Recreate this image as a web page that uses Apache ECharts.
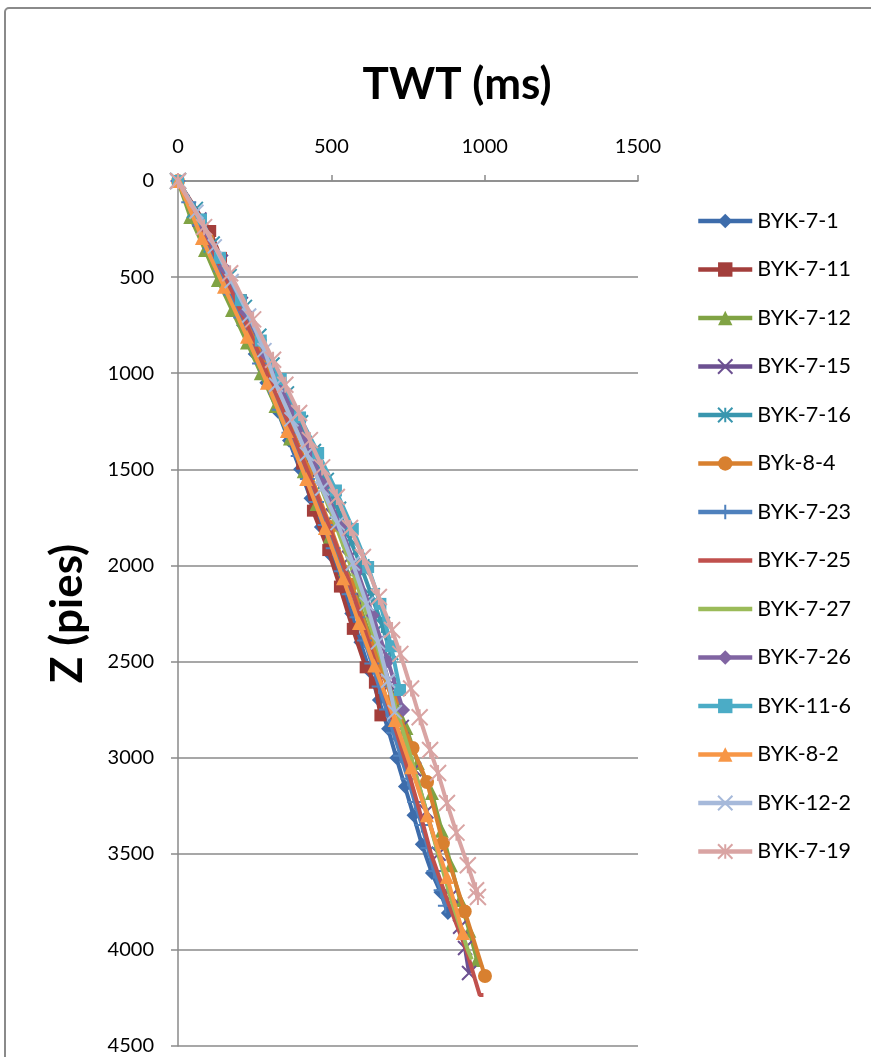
<!DOCTYPE html>
<html>
<head>
<meta charset="utf-8">
<script src="https://cdn.jsdelivr.net/npm/echarts@6/dist/echarts.min.js"></script>
<style>
html,body{margin:0;padding:0;background:#fff;}
#c{width:871px;height:1057px;}
</style>
</head>
<body>
<div id="c"></div>
<script>
// Tick values
const xTicks = [0, 500, 1000, 1500];
const yTicks = [0, 500, 1000, 1500, 2000, 2500, 3000, 3500, 4000, 4500];

// Titles
const xTitle = 'TWT (ms)';
const yTitle = 'Z (pies)';

// Series names
const seriesNames = ['BYK-7-1','BYK-7-11','BYK-7-12','BYK-7-15','BYK-7-16','BYk-8-4','BYK-7-23',
  'BYK-7-25','BYK-7-27','BYK-7-26','BYK-11-6','BYK-8-2','BYK-12-2','BYK-7-19'];

// Data: [TWT (ms), Z (pies)]
const byk7_1 = [[0,0],[48,150],[92,300],[135,450],[172,600],[212,750],[250,900],[288,1050],[326,1200],[362,1350],[398,1500],[432,1650],[466,1800],[500,1950],[535,2100],[565,2250],[595,2400],[625,2550],[655,2700],[685,2850],[712,3000],[740,3150],[768,3300],[795,3450],[828,3600],[856,3700],[880,3808]];
const byk7_11 = [[0,0],[105,260],[140,400],[205,620],[262,850],[310,1050],[362,1260],[405,1470],[440,1715],[490,1920],[528,2110],[570,2330],[612,2530],[642,2610],[660,2780]];
const byk7_12 = [[0,0],[40,187],[88,359],[130,515],[176,671],[225,840],[270,1000],[318,1170],[365,1340],[410,1510],[452,1680],[495,1850],[545,2020],[588,2190],[625,2360],[662,2530],[705,2690],[745,2846],[782,3028],[828,3184],[860,3380],[890,3560],[920,3740],[950,3900],[975,4053]];
const byk7_15 = [[0,0],[70,200],[140,420],[205,640],[265,860],[325,1080],[390,1300],[450,1520],[505,1740],[558,1960],[605,2180],[650,2400],[690,2620],[730,2840],[770,3060],[810,3280],[850,3500],[890,3720],[920,3880],[936,3990],[949,4120]];
const byk7_16 = [[0,0],[55,150],[110,330],[165,500],[215,660],[262,810],[305,960],[352,1110],[398,1260],[440,1410],[482,1560],[522,1710],[560,1860],[598,2010],[632,2160],[665,2310],[692,2450]];
const byk8_4 = [[0,0],[95,300],[185,600],[270,900],[350,1200],[425,1500],[497,1800],[565,2100],[630,2400],[700,2700],[765,2950],[812,3127],[864,3444],[935,3800],[1001,4136]];
const byk7_23 = [[0,0],[35,110],[70,230],[105,350],[140,470],[172,590],[205,710],[237,830],[266,950],[297,1070],[330,1190],[362,1310],[392,1430],[422,1550],[452,1670],[480,1790],[506,1910],[532,2030],[558,2150],[584,2270],[608,2390],[632,2510],[656,2630],[680,2750],[703,2870],[726,2990],[750,3110],[772,3230],[795,3350],[815,3470],[835,3590],[858,3690],[872,3770]];
const byk7_25 = [[0,0],[80,250],[155,500],[225,750],[290,1000],[358,1250],[420,1500],[482,1750],[540,2000],[592,2250],[642,2500],[690,2750],[738,3000],[783,3250],[825,3500],[880,3750],[940,4000],[968,4150],[984,4235],[996,4235]];
const byk7_27 = [[0,0],[88,250],[170,500],[245,750],[310,1000],[377,1250],[443,1500],[505,1750],[563,2000],[615,2250],[665,2500],[712,2750],[760,3000],[805,3250],[848,3500],[893,3750],[945,4000],[958,4050]];
const byk7_26 = [[0,0],[75,220],[150,450],[220,680],[285,900],[350,1120],[415,1350],[475,1580],[530,1800],[585,2030],[635,2260],[685,2500],[734,2752]];
const byk11_6 = [[0,0],[75,200],[137,400],[205,620],[270,830],[335,1030],[398,1230],[457,1415],[515,1610],[570,1810],[620,2008],[660,2200],[695,2420],[724,2648]];
const byk8_2 = [[0,0],[78,297],[150,550],[225,810],[290,1050],[355,1300],[418,1550],[479,1805],[538,2066],[590,2300],[640,2520],[707,2804],[760,3050],[812,3299],[877,3621],[929,3912]];
const byk12_2 = [[0,0],[60,160],[120,340],[175,520],[232,700],[282,880],[320,1060],[370,1240],[420,1420],[470,1600],[520,1780],[570,1990],[615,2200],[652,2400],[685,2600],[707,2763]];
const byk7_19 = [[0,0],[85,240],[170,480],[245,720],[310,930],[350,1060],[395,1207],[430,1348],[470,1490],[518,1644],[561,1805],[603,1956],[655,2164],[698,2336],[725,2460],[760,2640],[788,2790],[822,2960],[848,3080],[877,3236],[908,3390],[945,3560],[972,3690],[978,3725]];

const seriesData = [byk7_1, byk7_11, byk7_12, byk7_15, byk7_16, byk8_4, byk7_23,
  byk7_25, byk7_27, byk7_26, byk11_6, byk8_2, byk12_2, byk7_19];

const colors = ['#3D6CAB','#A33E3B','#80A344','#6C5091','#3996AE','#D8802F','#4F81BD',
  '#C0504D','#9BBB59','#8064A2','#4BACC6','#F79646','#A6B9DA','#D9A4A3'];

const X_PATH = 'path://M0,0L10,10M10,0L0,10';
const PLUS_PATH = 'path://M5,0L5,10M0,5L10,5';
const STAR_PATH = 'path://M0,0L10,10M10,0L0,10M5,0L5,10';
const symbols = ['diamond','rect','triangle',X_PATH,STAR_PATH,'circle',PLUS_PATH,
  'none','none','diamond','rect','triangle',X_PATH,STAR_PATH];
const sizes = [14,12,14,14,16,14,15,0,0,14,12,14,14,16];
const stroked = [false,false,false,true,true,false,true,false,false,false,false,false,true,true];

const FONT = 'Lato, "Open Sans", sans-serif';

const series = seriesNames.map((n, i) => ({
  name: n,
  type: 'line',
  data: seriesData[i],
  symbol: symbols[i],
  symbolSize: sizes[i],
  showSymbol: symbols[i] !== 'none',
  lineStyle: { color: colors[i], width: 4 },
  itemStyle: stroked[i]
    ? { color: colors[i], borderColor: colors[i], borderWidth: 2 }
    : { color: colors[i], borderWidth: 0 },
  emphasis: { disabled: true },
  z: 2 + i
}));

const legendData = seriesNames.map((n, i) => (symbols[i] === 'none'
  ? { name: n, itemStyle: { color: 'rgba(0,0,0,0)', borderColor: 'rgba(0,0,0,0)', borderWidth: 0, opacity: 0 } }
  : { name: n }));

const chart = echarts.init(document.getElementById('c'), null, { renderer: 'canvas' });
chart.setOption({
  animation: false,
  backgroundColor: '#fff',
  graphic: [{
    type: 'rect',
    shape: { x: 5, y: 8, width: 900, height: 1100, r: 4 },
    style: { fill: 'none', stroke: '#8A8A8A', lineWidth: 2 },
    z: -1
  }, {
    type: 'text',
    x: 457, y: 85,
    style: { text: xTitle, fontFamily: FONT, fontSize: 44, fontWeight: 'bold', fill: '#000',
      textAlign: 'center', textVerticalAlign: 'middle' }
  }],
  grid: { left: 178, top: 181, width: 460, height: 865 },
  legend: {
    orient: 'vertical',
    left: 691,
    top: 205,
    itemWidth: 54,
    itemHeight: 18,
    itemGap: 26.5,
    data: legendData,
    lineStyle: { width: 4.5 },
    textStyle: { fontFamily: FONT, fontSize: 21.5, color: '#000', lineHeight: 20 }
  },
  xAxis: {
    type: 'value',
    position: 'top',
    min: xTicks[0],
    max: xTicks[xTicks.length - 1],
    interval: 500,
    axisLine: { show: true, lineStyle: { color: '#8A8A8A', width: 1.5 } },
    axisTick: { show: true, inside: false, length: 6, lineStyle: { color: '#8A8A8A', width: 1.5 } },
    axisLabel: { fontFamily: FONT, fontSize: 20, color: '#000', margin: 24, formatter: v => String(v) },
    splitLine: { show: false }
  },
  yAxis: {
    type: 'value',
    inverse: true,
    min: yTicks[0],
    max: yTicks[yTicks.length - 1],
    interval: 500,
    name: yTitle,
    nameLocation: 'middle',
    nameGap: 88,
    nameRotate: 90,
    nameTextStyle: { fontFamily: FONT, fontSize: 44, fontWeight: 'bold', color: '#000' },
    axisLine: { show: true, lineStyle: { color: '#8A8A8A', width: 1.5 } },
    axisTick: { show: true, inside: false, length: 7, lineStyle: { color: '#8A8A8A', width: 1.5 } },
    axisLabel: { fontFamily: FONT, fontSize: 20, color: '#000', margin: 24, formatter: v => String(v) },
    splitLine: { show: true, lineStyle: { color: '#8A8A8A', width: 1.5 } }
  },
  series: series
});
</script>
</body>
</html>
